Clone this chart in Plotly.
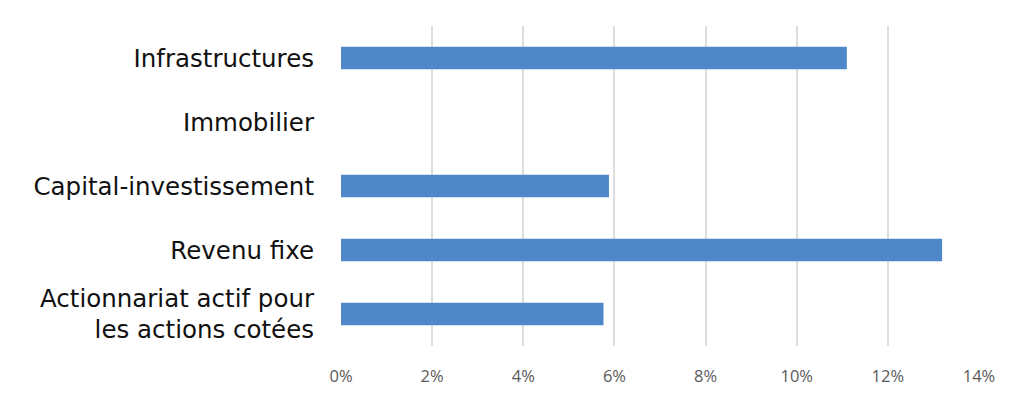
import plotly.graph_objects as go

categories = [
    "Actionnariat actif pour<br>les actions cotées",
    "Revenu fixe",
    "Capital-investissement",
    "Immobilier",
    "Infrastructures",
]
values = [5.76, 13.19, 5.88, 0, 11.10]
x_ticks = [0, 2, 4, 6, 8, 10, 12, 14]
x_tick_labels = [f"{v}%" for v in x_ticks]

fig = go.Figure(
    go.Bar(
        x=values,
        y=categories,
        orientation="h",
        width=0.35,
        marker=dict(color="#4f88c9", line=dict(width=0)),
    )
)

# page body has an 8px default margin, so the figure is offset by 8px
fig.update_layout(
    width=1014,
    height=396,
    margin=dict(l=333, r=43, t=18, b=58),
    plot_bgcolor="white",
    paper_bgcolor="white",
    showlegend=False,
)
fig.update_xaxes(
    range=[0, 14],
    tickvals=x_ticks,
    ticktext=x_tick_labels,
    showgrid=True,
    gridcolor="#dedede",
    gridwidth=1.5,
    zeroline=False,
    showline=False,
    tickfont=dict(family="Open Sans", size=16.5, color="#595959"),
    ticks="",
    ticklabelstandoff=18,
)
fig.update_yaxes(
    showgrid=False,
    zeroline=False,
    showline=False,
    ticks="",
    tickfont=dict(family="DejaVu Sans", size=24.5, color="#111111"),
    ticklabelstandoff=26,
)

fig.write_html("out.html")
